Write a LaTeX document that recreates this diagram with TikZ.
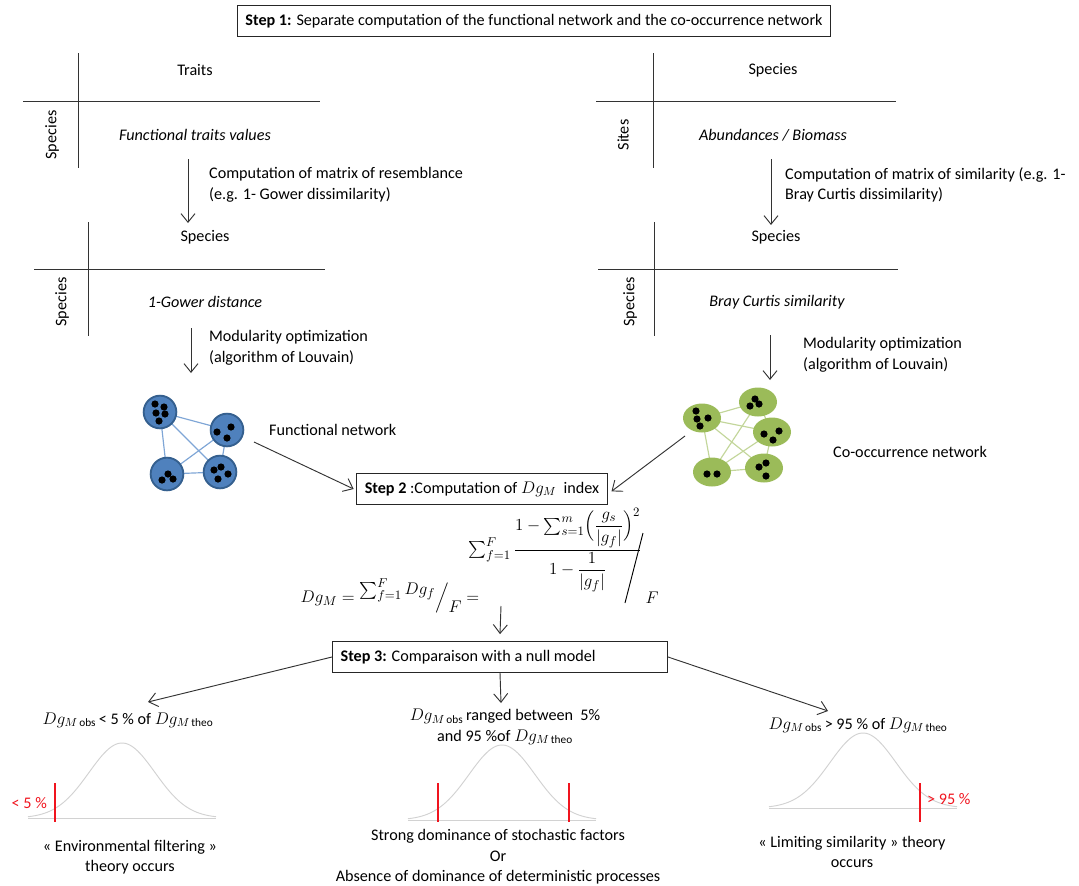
\documentclass[tikz,border=0pt]{standalone}
\usepackage{amsmath}
\usepackage{fontspec}
\setmainfont{Carlito}
\usepackage{tikz}
\usetikzlibrary{arrows.meta,shapes.geometric,backgrounds}

\definecolor{fblue}{HTML}{4F81BD}
\definecolor{fborder}{HTML}{35608F}
\definecolor{fedge}{HTML}{7FA6D6}
\definecolor{cgreen}{HTML}{9BBB59}
\definecolor{cedge}{HTML}{C3D69B}
\definecolor{bellgray}{HTML}{D2D2D2}
\definecolor{cutred}{HTML}{F0141E}

\newcommand{\dgo}{$Dg_{M\,\text{obs}}$}
\newcommand{\dgt}{$Dg_{M\,\text{theo}}$}

\begin{document}
\begin{tikzpicture}[x=0.03cm,y=-0.03cm,
    every node/.style={font=\fontsize{13.8}{17.5}\selectfont},
    stepbox/.style={draw=black!85, line width=0.9pt, inner xsep=7pt, minimum height=0.92cm, fill=white},
    ital/.style={font=\fontsize{13.8}{17.5}\selectfont\itshape},
    axis/.style={draw=black!80, line width=0.8pt},
    arr/.style={draw=black!80, line width=0.8pt, -{Straight Barb[length=2.6mm,width=4.2mm]}},
    fmod/.style={circle, draw=fborder, line width=1.6pt, fill=fblue, minimum size=0.98cm, inner sep=0pt},
    cmod/.style={ellipse, fill=cgreen, minimum width=1.14cm, minimum height=0.87cm, inner sep=0pt},
    fedgeline/.style={draw=fedge, line width=1pt},
    cedgeline/.style={draw=cedge, line width=1pt},
    bell/.style={draw=bellgray, line width=0.8pt},
    cut/.style={draw=cutred, line width=0.9pt}]
    \useasboundingbox (0,0) rectangle (1079,886);

    % step 1
    \node[stepbox] (s1) at (534,21) {\textbf{Step 1:} Separate computation of the functional network and the co-occurrence network};

    % functional side
    \node (trl) at (195,70) {Traits};
    \node[rotate=90] (spa) at (52,135) {Species};
    \node[ital] (ftv) at (195,135) {Functional traits values};
    \draw[axis] (78,53) -- (78,168);
    \draw[axis] (23,101) -- (320,101);
    \coordinate (r1) at (188,159);
    \coordinate (r2) at (188,223);
    \draw[arr] (r1) -- (r2);
    \node[anchor=west, align=left] (rsm) at (205,185) {Computation of matrix of resemblance\\(e.g. 1- Gower dissimilarity)};
    \node (spb) at (205,237) {Species};
    \node[rotate=90] (spc) at (62,302) {Species};
    \node[ital] (gow) at (205,302) {1-Gower distance};
    \draw[axis] (88,222) -- (88,336);
    \draw[axis] (34,269) -- (325,269);
    \coordinate (m1) at (191,328);
    \coordinate (m2) at (191,373);
    \draw[arr] (m1) -- (m2);
    \node[anchor=west, align=left] (lvf) at (205,348) {Modularity optimization\\(algorithm of Louvain)};

    % co-occurrence side
    \node (spd) at (773,70) {Species};
    \node[rotate=90] (sit) at (623,135) {Sites};
    \node[ital] (abu) at (773,135) {Abundances / Biomass};
    \draw[axis] (653,53) -- (653,168);
    \draw[axis] (596,101) -- (896,101);
    \coordinate (q1) at (771,159);
    \coordinate (q2) at (771,225);
    \draw[arr] (q1) -- (q2);
    \node[anchor=west, align=left] (sim) at (781,185) {Computation of matrix of similarity (e.g. 1-\\Bray Curtis dissimilarity)};
    \node (spe) at (776,237) {Species};
    \node[rotate=90] (spf) at (630,302) {Species};
    \node[ital] (bcs) at (777,302) {Bray Curtis similarity};
    \draw[axis] (654,222) -- (654,336);
    \draw[axis] (598,269) -- (898,269);
    \coordinate (n1) at (770,335);
    \coordinate (n2) at (770,380);
    \draw[arr] (n1) -- (n2);
    \node[anchor=west, align=left] (lvc) at (799,355) {Modularity optimization\\(algorithm of Louvain)};

    % functional network
    \node[fmod] (fa) at (160,412) {};
    \node[fmod] (fb) at (227,430) {};
    \node[fmod] (fc) at (167,474) {};
    \node[fmod] (fd) at (220,472) {};
    \begin{scope}[on background layer]
    \foreach \u/\v in {fa/fb, fa/fc, fa/fd, fb/fc, fb/fd, fc/fd}
        \draw[fedgeline] (\u.center) -- (\v.center);
    \end{scope}
    \foreach \n/\dx/\dy in {fa/-5/-8, fa/4/-5, fa/-4/1, fa/5/2, fa/-1/9,
                            fb/-10/2, fb/4/-3, fb/0/8,
                            fc/-5/6, fc/1/0, fc/6/5,
                            fd/-6/-2, fd/1/-5, fd/8/2, fd/-2/7}
        \fill (\n) ++(\dx,\dy) circle[radius=3.6];
    \node[anchor=west] (fnet) at (265,430) {Functional network};

    % co-occurrence network
    \node[cmod] (ca) at (702,418) {};
    \node[cmod] (cb) at (758,402) {};
    \node[cmod] (cc) at (772,432) {};
    \node[cmod] (cd) at (712,472) {};
    \node[cmod] (ce) at (764,468) {};
    \begin{scope}[on background layer]
    \foreach \u/\v in {ca/cb, ca/cc, ca/cd, ca/ce, cb/cc, cb/cd, cc/cd, cc/ce, cd/ce}
        \draw[cedgeline] (\u.center) -- (\v.center);
    \end{scope}
    \foreach \n/\dx/\dy in {ca/-6/-7, ca/-5/1, ca/6/0, ca/-2/8,
                            cb/-3/-3, cb/1/2, cb/-8/4,
                            cc/-8/2, cc/7/-1, cc/1/8,
                            cd/-5/2, cd/5/2,
                            ce/-5/-1, ce/2/-5, ce/2/8}
        \fill (\n) ++(\dx,\dy) circle[radius=3.6];
    \node[anchor=west] (cnet) at (829,452) {Co-occurrence network};

    % step 2
    \node[stepbox] (s2) at (482,489) {\textbf{Step 2} :Computation of $Dg_M$~ index};
    \coordinate (fs) at (254,442);
    \coordinate (cs) at (685,436);
    \draw[arr] (fs) -- ([xshift=-2pt]s2.west);
    \draw[arr] (cs) -- ([xshift=3pt,yshift=-2pt]s2.east);

    % index formula
    \node (dgl) at (390,596) {\fontsize{15.5}{18}\selectfont $Dg_M = \raisebox{0.9ex}{$\sum_{f=1}^{F} Dg_f$}\Big/\raisebox{-1.1ex}{$F$} =$};
    \node (dgr) at (555,550) {\fontsize{15.5}{18}\selectfont $\textstyle\sum_{f=1}^{F}\dfrac{1-\sum_{s=1}^{m}\Bigl(\dfrac{g_s}{|g_f|}\Bigr)^{2}}{1-\dfrac{1}{|g_f|}}$};
    \draw[line width=0.8pt] (643,533) -- (625,603);
    \node (dgf) at (652,598) {\fontsize{15.5}{18}\selectfont $F$};

    % step 3
    \node[stepbox] (s3) at (500,657) {\makebox[272pt][l]{\textbf{Step 3:} Comparaison with a null model}};
    \coordinate (fd0) at (501,606);
    \draw[arr] (fd0) -- ([yshift=6pt]s3.north);
    \coordinate (ol) at (148,702);
    \coordinate (om) at (501,703);
    \coordinate (or) at (828,711);
    \draw[arr] (s3.west) -- (ol);
    \draw[arr] (s3.south) -- (om);
    \draw[arr] (s3.east) -- (or);

    % outcomes
    \node (o1) at (128,720) {\dgo\,< 5 \% of \dgt};
    \node[align=center] (o2) at (505,727) {\dgo\,ranged between \ 5\%\\and 95 \%of \dgt};
    \node (o3) at (858,725) {\dgo\,> 95 \% of \dgt};

    % null distributions
    \foreach \cx/\by in {122/818, 502/820, 863/808} {
        \draw[bell] (\cx-94,\by) -- (\cx+94,\by);
        \draw[bell] plot[domain=-94:94, samples=80, smooth] ({\cx+\x},{\by-75*exp(-(\x*\x)/(2*33*33))});
    }
    \draw[cut] (55,783) -- (55,822);
    \draw[cut] (438,783) -- (438,822);
    \draw[cut] (569,783) -- (569,822);
    \draw[cut] (920,783) -- (920,822);
    \node[anchor=east, text=cutred] (lt5) at (51,803) {< 5 \%};
    \node[anchor=west, text=cutred] (gt95) at (923,799) {> 95 \%};

    \node[align=center] (c1) at (130,857) {« Environmental filtering »\\theory occurs};
    \node[align=center] (c2) at (498,857) {Strong dominance of stochastic factors\\Or\\Absence of dominance of deterministic processes};
    \node[align=center] (c3) at (852,852) {« Limiting similarity » theory\\occurs};
\end{tikzpicture}
\end{document}
